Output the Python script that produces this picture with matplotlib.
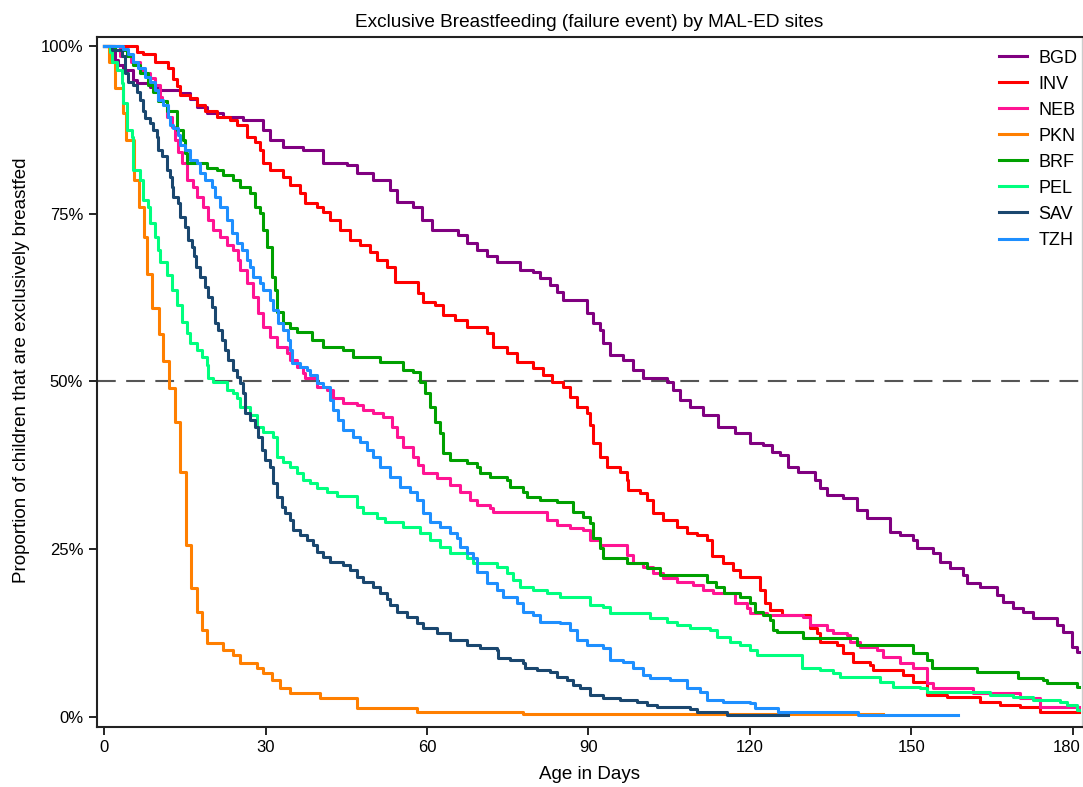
import matplotlib.pyplot as plt
import matplotlib.transforms as mtransforms
from matplotlib.ticker import FuncFormatter

plt.rcParams['font.family'] = ['Liberation Sans', 'DejaVu Sans']

# Kaplan-Meier step estimates (day, % still exclusively breastfed)
bgd_days = [0, 2.0, 2.6, 3.5, 5.4, 6.1, 8.5, 10.4, 14.1, 16.0, 17.3, 19.1, 22.1, 25.8, 29.5, 30.8,
            33.3, 37.0, 40.7, 45.1, 47.0, 50.0, 53.1, 54.4, 57.4, 59.1, 60.9, 65.8, 67.4, 69.3, 71.2,
            73.0, 77.3, 79.7, 81.0, 82.9, 84.2, 85.3, 89.7, 90.8, 92.1, 92.7, 94.0, 96.4, 98.3, 100.1,
            104.6, 105.7, 107.0, 108.9, 111.3, 114.1, 117.2, 120.0, 122.4, 124.1, 125.6, 127.1, 128.9,
            132.1, 133.0, 134.3, 137.3, 139.9, 141.7, 146.0, 147.9, 150.3, 151.0, 154.0, 155.3, 157.2,
            159.6, 160.3, 162.7, 165.9, 167.0, 168.9, 170.7, 172.6, 177.0, 178.2, 179.8, 180.8, 181.2]
bgd_surv = [100, 97.9, 97.2, 96.4, 94.9, 94.5, 93.9, 93.4, 93.0, 92.0, 90.8, 90.0, 89.4, 89.0, 87.5, 86.0,
            84.9, 84.5, 82.6, 82.3, 81.1, 80.0, 78.5, 76.7, 75.9, 74.1, 72.6, 71.8, 70.6, 69.6, 68.6,
            67.8, 66.6, 66.3, 65.4, 64.4, 63.3, 62.1, 60.2, 58.7, 57.7, 55.7, 53.9, 53.2, 51.7, 50.5,
            49.9, 48.7, 47.2, 46.2, 45.0, 43.2, 42.3, 40.8, 40.5, 39.5, 39.0, 37.3, 36.5,
            35.3, 34.1, 33.1, 32.6, 30.8, 29.7, 27.6, 27.1, 26.4, 25.2, 24.4, 23.1, 22.2,
            21.2, 20.0, 19.4, 18.2, 17.1, 16.2, 15.6, 14.8, 13.7, 12.7, 10.4, 9.7, 9.7]

inv_days = [0, 6.1, 7.2, 9.5, 11.9, 12.8, 13.6, 14.1, 16.0, 17.3, 18.8, 21.0, 23.4, 24.7, 26.6, 28.1,
            29.0, 29.5, 30.8, 33.3, 34.6, 36.4, 37.3, 39.6, 40.7, 42.0, 43.8, 45.7, 47.6, 49.4, 50.7,
            52.6, 54.1, 58.3, 59.3, 61.5, 63.0, 65.2, 67.4, 71.2, 72.3, 74.9, 76.7, 79.7, 81.6, 83.2,
            85.3, 86.6, 87.9, 89.7, 90.3, 90.8, 92.1, 93.4, 95.9, 97.2, 97.3, 99.6, 100.9, 102.0, 103.8,
            106.4, 108.3, 110.2, 112.0, 112.9, 115.0, 116.8, 118.1, 121.9, 122.8, 123.7, 126.0, 131.2,
            132.5, 133.0, 136.2, 137.3, 139.1, 142.3, 142.9, 148.4, 150.3, 152.9, 156.6, 162.7, 166.4,
            170.2, 173.9, 181.2]
inv_surv = [100, 99.0, 98.7, 97.5, 96.7, 95.0, 94.0, 92.7, 92.2, 91.2, 90.2, 89.4, 89.0, 88.2, 86.4, 85.7,
            84.5, 82.6, 81.5, 80.5, 79.3, 78.1, 76.6, 76.0, 75.3, 74.1, 72.6, 71.1, 70.3, 69.3, 68.1,
            67.1, 64.8, 63.2, 61.8, 61.4, 59.9, 59.2, 58.1, 57.2, 55.1, 54.2, 52.9, 52.0, 51.0, 49.9,
            49.2, 47.7, 46.2, 45.3, 43.5, 40.8, 38.7, 37.3, 36.5, 35.3, 33.8, 33.4, 32.3, 30.4, 29.4,
            28.3, 27.4, 27.1, 26.4, 24.0, 22.9, 21.9, 20.9, 18.9, 17.0, 15.9, 15.2, 13.3,
            12.5, 11.2, 10.7, 9.5, 8.2, 7.7, 7.0, 6.3, 5.2, 3.3, 3.0, 2.2, 1.8,
            1.5, 0.7, 0.7]

neb_days = [0, 3.0, 5.0, 6.7, 7.6, 8.5, 9.5, 10.4, 10.8, 11.7, 12.6, 13.2, 13.7, 14.5, 15.4, 16.5, 17.3,
            18.4, 19.3, 20.2, 21.5, 22.8, 24.0, 24.9, 25.3, 26.6, 27.7, 28.6, 29.5, 30.8, 32.1, 34.0,
            34.6, 35.9, 37.0, 37.3, 39.6, 41.4, 42.5, 44.4, 47.0, 48.1, 50.0, 51.8, 53.5, 54.4, 55.5,
            57.4, 58.3, 59.3, 61.9, 64.3, 66.1, 68.0, 69.3, 71.7, 72.3, 82.3, 84.2, 86.6, 89.0, 90.3,
            92.1, 97.2, 98.3, 100.1, 102.0, 103.8, 106.4, 109.4, 111.3, 113.1, 117.2, 119.4, 120.0,
            123.2, 129.9, 131.2, 134.3, 135.4, 138.0, 138.6, 140.4, 143.6, 144.7, 147.9, 150.3, 152.9,
            154.0, 161.4, 170.2, 173.9, 181.2]
neb_surv = [100, 98.5, 97.5, 96.4, 96.0, 95.2, 94.2, 92.4, 91.7, 89.4, 87.9, 86.0, 84.2, 82.6, 80.0, 79.0, 77.5,
            76.0, 74.1, 72.6, 71.5, 70.3, 69.6, 68.1, 66.6, 64.7, 62.6, 60.2, 58.1, 56.6, 55.1, 54.2,
            53.2, 52.2, 51.3, 50.5, 49.2, 48.7, 47.5, 46.8, 46.5, 45.8, 45.3, 44.7, 43.2, 41.7, 40.2,
            38.7, 37.6, 36.4, 35.6, 34.6, 33.5, 32.3, 31.6, 31.1, 30.6, 29.4, 28.6, 28.2, 27.9, 26.4,
            25.6, 24.1, 23.0, 22.4, 21.5, 20.7, 20.1, 19.7, 18.9, 18.5, 17.0, 16.2, 15.5,
            15.2, 14.9, 13.7, 13.0, 12.5, 12.2, 11.2, 10.4, 10.0, 8.9, 8.0, 7.3, 5.1,
            4.3, 3.6, 2.8, 1.5, 1.5]

pkn_days = [0, 1.0, 2.0, 3.5, 4.0, 5.5, 6.5, 7.5, 8.0, 9.0, 10.2, 11.0, 12.0, 13.2, 14.1, 15.2, 16.2,
            17.3, 18.2, 19.1, 22.1, 24.0, 25.3, 28.4, 29.5, 31.2, 32.7, 34.6, 40.1, 47.0, 58.1, 77.8,
            144.7]
pkn_surv = [100, 97.5, 93.7, 90.0, 86.0, 80.0, 76.0, 71.5, 66.0, 61.0, 57.0, 53.0, 49.0, 44.0, 36.5, 25.6, 19.2,
            15.6, 13.0, 11.0, 10.0, 9.2, 8.0, 7.3, 6.5, 5.5, 4.3, 3.6, 2.8, 1.3, 0.8, 0.4,
            0.4]

brf_days = [0, 2.0, 4.3, 5.4, 6.7, 8.2, 9.1, 10.0, 11.7, 13.6, 14.7, 15.0, 15.4, 19.1, 21.0, 22.1, 24.0,
            25.3, 27.1, 28.1, 29.0, 29.5, 30.3, 31.2, 31.8, 32.1, 33.3, 34.6, 35.9, 38.6, 40.7, 44.4,
            46.3, 51.3, 55.5, 57.4, 58.7, 59.6, 60.6, 61.5, 62.4, 63.0, 64.3, 67.4, 69.3, 69.8, 71.7,
            74.9, 75.4, 77.8, 78.6, 81.0, 84.2, 87.1, 89.0, 90.3, 90.8, 92.1, 92.7, 97.2, 100.9, 103.3,
            112.0, 113.7, 115.2, 118.1, 120.0, 120.9, 122.4, 123.7, 124.3, 125.0, 129.9, 139.9, 150.3,
            152.9, 153.8, 162.2, 169.8, 174.4, 175.2, 180.8, 181.2]
brf_surv = [100, 99.3, 98.4, 97.2, 96.0, 94.2, 93.1, 91.7, 90.2, 87.5, 86.0, 84.0, 82.6, 81.8, 81.5, 80.8, 80.0,
            79.0, 78.1, 76.0, 75.1, 72.6, 70.0, 65.6, 63.6, 60.4, 58.7, 58.0, 57.4, 56.2, 55.1, 54.7,
            53.7, 52.9, 51.7, 51.4, 49.9, 48.3, 46.2, 44.0, 42.3, 39.3, 38.3, 37.9, 37.3, 36.4, 35.8,
            35.3, 34.3, 33.5, 32.8, 32.3, 32.0, 30.6, 29.8, 28.9, 26.7, 25.2, 23.7, 23.0, 22.2, 21.2,
            20.1, 19.4, 18.5, 17.9, 17.0, 15.6, 15.2, 14.5, 13.0, 12.7, 11.8, 10.7, 9.5,
            8.5, 7.3, 6.7, 5.8, 5.5, 5.1, 4.5, 4.5]

pel_days = [0, 1.1, 1.5, 2.4, 3.3, 3.5, 4.3, 5.2, 5.4, 6.7, 7.2, 8.2, 8.5, 9.5, 10.0, 10.4, 11.7, 12.6,
            13.6, 14.5, 15.4, 16.0, 17.3, 18.2, 19.1, 19.3, 20.2, 22.8, 24.0, 24.7, 25.3, 27.1, 28.4,
            29.5, 31.4, 32.1, 33.3, 34.6, 35.9, 37.0, 38.3, 39.6, 41.4, 43.3, 47.0, 48.1, 50.7, 52.2,
            55.5, 58.7, 60.6, 62.4, 64.3, 67.4, 68.5, 73.0, 74.9, 76.0, 77.3, 79.7, 82.3, 84.7, 90.3,
            92.7, 94.0, 101.4, 104.6, 106.4, 108.9, 112.6, 113.9, 116.3, 118.1, 120.0, 121.3, 129.7,
            133.0, 135.4, 136.7, 144.2, 146.6, 151.6, 152.9, 164.6, 168.9, 172.6, 177.6, 178.9, 180.8,
            181.2]
pel_surv = [100, 99.0, 97.5, 96.4, 94.5, 91.5, 87.5, 86.4, 81.5, 80.0, 77.0, 76.0, 73.6, 71.5, 69.6, 67.8, 65.9, 63.6,
            61.4, 58.9, 57.2, 55.7, 54.7, 53.7, 52.5, 50.5, 49.9, 48.7, 48.3, 47.5, 46.2, 45.0, 43.2,
            42.5, 41.7, 38.7, 38.0, 37.3, 36.4, 35.3, 34.9, 34.1, 33.5, 32.9, 31.3, 30.4, 29.7, 29.0,
            28.3, 27.4, 26.4, 25.3, 24.4, 23.7, 23.0, 22.4, 21.5, 20.4, 19.4, 18.9, 18.5, 17.9, 16.7,
            16.4, 15.5, 14.8, 14.2, 13.7, 13.3, 13.0, 11.9, 11.2, 10.7, 10.0, 9.2, 7.3,
            7.0, 6.6, 6.0, 5.2, 4.5, 4.3, 3.7, 3.3, 3.0, 2.5, 2.2, 1.8, 1.0,
            1.0]

sav_days = [0, 1.5, 3.3, 3.9, 4.5, 5.4, 6.1, 6.7, 7.2, 7.6, 8.5, 9.1, 9.8, 10.0, 10.8, 11.7, 12.3, 12.6,
            12.8, 13.7, 14.1, 15.0, 15.6, 16.3, 16.7, 17.1, 17.8, 18.8, 19.3, 20.1, 20.6, 21.2, 21.9,
            22.5, 23.0, 24.0, 24.7, 25.3, 25.8, 26.2, 27.1, 28.1, 28.6, 29.4, 29.9, 30.8, 31.4, 32.1,
            33.1, 33.6, 34.6, 35.1, 36.4, 37.7, 38.8, 39.6, 40.7, 42.0, 44.4, 45.7, 47.0, 48.1, 50.0,
            51.3, 52.6, 53.1, 54.4, 56.3, 58.1, 59.3, 61.9, 64.3, 67.4, 69.8, 73.0, 73.2, 75.4, 77.8,
            78.2, 80.4, 82.9, 84.2, 86.0, 87.1, 88.4, 90.3, 92.7, 95.9, 99.0, 100.9, 102.7, 108.9,
            110.2, 115.7, 127.0]
sav_surv = [100, 99.3, 98.4, 96.0, 94.6, 94.2, 93.1, 91.9, 90.2, 89.3, 88.5, 87.5, 86.4, 84.5, 83.5, 81.5, 80.5, 79.0,
            77.5, 76.6, 74.5, 73.0, 71.1, 70.0, 68.6, 67.1, 65.6, 64.1, 62.6, 61.1, 58.7, 57.7, 56.2,
            54.7, 53.2, 51.7, 50.7, 49.8, 48.3, 45.3, 44.3, 43.2, 41.7, 39.8, 38.3, 37.3, 34.9, 32.8,
            31.3, 30.4, 29.4, 27.9, 27.1, 26.4, 25.6, 24.6, 23.8, 23.1, 22.7, 21.9, 20.9, 20.1, 19.4,
            18.5, 17.5, 16.7, 15.6, 14.9, 14.0, 13.3, 12.5, 11.5, 10.7, 10.3, 10.0, 8.8, 8.5, 8.0,
            7.3, 7.0, 6.7, 6.0, 5.5, 4.8, 4.3, 3.3, 2.8, 2.5, 2.2, 1.8, 1.5, 1.2,
            0.7, 0.3, 0.3]

tzh_days = [0, 3.5, 4.5, 5.4, 6.3, 7.6, 8.5, 9.5, 10.0, 11.0, 11.9, 12.3, 12.8, 13.7, 14.1, 15.0, 16.0,
            17.3, 17.8, 18.8, 20.1, 20.6, 21.5, 22.8, 23.8, 24.7, 25.6, 26.6, 27.1, 27.7, 29.0, 29.5,
            30.8, 31.4, 32.3, 33.3, 34.2, 34.6, 34.9, 36.4, 37.7, 38.3, 39.6, 40.7, 42.0, 42.5, 43.5,
            44.4, 46.3, 47.6, 48.9, 50.0, 51.3, 53.1, 55.0, 56.8, 58.1, 59.3, 60.6, 62.4, 64.3, 65.6,
            66.1, 67.4, 68.5, 69.3, 71.2, 73.0, 74.1, 76.7, 77.8, 79.7, 81.0, 84.7, 86.6, 87.9, 89.7,
            92.7, 94.0, 96.4, 98.3, 100.1, 101.4, 105.1, 108.3, 110.7, 112.0, 115.0, 120.0, 120.9,
            125.2, 140.1, 158.7]
tzh_surv = [100, 99.5, 98.7, 97.5, 96.7, 95.4, 94.6, 93.4, 91.9, 91.2, 89.4, 88.2, 87.8, 86.7, 85.2, 84.5, 83.0,
            82.6, 81.1, 80.0, 79.0, 77.5, 76.0, 74.1, 72.1, 70.6, 69.6, 68.1, 67.0, 65.6, 64.7, 63.6,
            62.1, 60.7, 58.7, 57.7, 56.2, 54.7, 52.8, 52.2, 51.7, 51.0, 49.8, 49.2, 47.2, 45.8, 44.3,
            42.8, 41.7, 41.0, 39.8, 38.7, 37.3, 35.8, 34.3, 33.5, 32.3, 30.4, 29.1, 28.3, 27.4, 26.7,
            25.3, 24.4, 23.7, 21.6, 20.0, 18.9, 17.9, 17.0, 15.6, 15.2, 14.2, 14.0, 13.0, 11.5, 10.7,
            10.3, 8.5, 8.2, 7.3, 6.3, 5.8, 5.5, 4.3, 3.7, 2.5, 2.2, 2.1, 1.3,
            0.7, 0.3, 0.3]

sites = ['BGD', 'INV', 'NEB', 'PKN', 'BRF', 'PEL', 'SAV', 'TZH']
colors = ['#800080', '#FF0000', '#FF1493', '#FF7F00', '#00A000', '#00FF7F', '#1A476F', '#1E8FFF']
all_days = [bgd_days, inv_days, neb_days, pkn_days, brf_days, pel_days, sav_days, tzh_days]
all_surv = [bgd_surv, inv_surv, neb_surv, pkn_surv, brf_surv, pel_surv, sav_surv, tzh_surv]

fig = plt.figure(figsize=(10.83, 7.87), dpi=100)
ax = fig.add_axes([0.0896, 0.0762, 0.9095, 0.8768])

ax.axhline(50, color='#555555', lw=1.5, ls=(0, (9, 5)), zorder=1)

for name, col, d, s in zip(sites, colors, all_days, all_surv):
    ax.step(d, s, where='post', color=col, lw=2.2, label=name, zorder=2)

ax.set_xlim(-1.3, 181.7)
ax.set_ylim(-1.5, 101.3)
ax.set_xticks(range(0, 181, 30))
ax.set_yticks([0, 25, 50, 75, 100])
ax.yaxis.set_major_formatter(FuncFormatter(lambda v, p: f'{v:.0f}%'))
ax.tick_params(direction='out', length=6, width=1.2, labelsize=12, colors='black')
ax.tick_params(axis='y', pad=4)

# last x tick label sits a little left of its tick so it stays inside the figure
last_lbl = ax.get_xticklabels()[-1]
last_lbl.set_transform(last_lbl.get_transform() +
                       mtransforms.ScaledTranslation(-6 / 100, 0, fig.dpi_scale_trans))

for side in ['left', 'bottom', 'top']:
    ax.spines[side].set_linewidth(1.5)
    ax.spines[side].set_color('#222222')
ax.spines['right'].set_color('#cccccc')
ax.spines['right'].set_linewidth(1.0)

ax.set_xlabel('Age in Days', fontsize=13.5, labelpad=8)
ax.set_ylabel('Proportion of children that are exclusively breastfed', fontsize=13.5)
ax.yaxis.set_label_coords(-0.068, 0.517)
ax.set_title('Exclusive Breastfeeding (failure event) by MAL-ED sites', fontsize=13.7, pad=7)

ax.legend(loc='upper right', bbox_to_anchor=(1.008, 1.0), frameon=False, fontsize=13,
          handlelength=1.6, handletextpad=0.6, labelspacing=0.5, borderaxespad=0.3)

fig.savefig('out.png', dpi=100)
